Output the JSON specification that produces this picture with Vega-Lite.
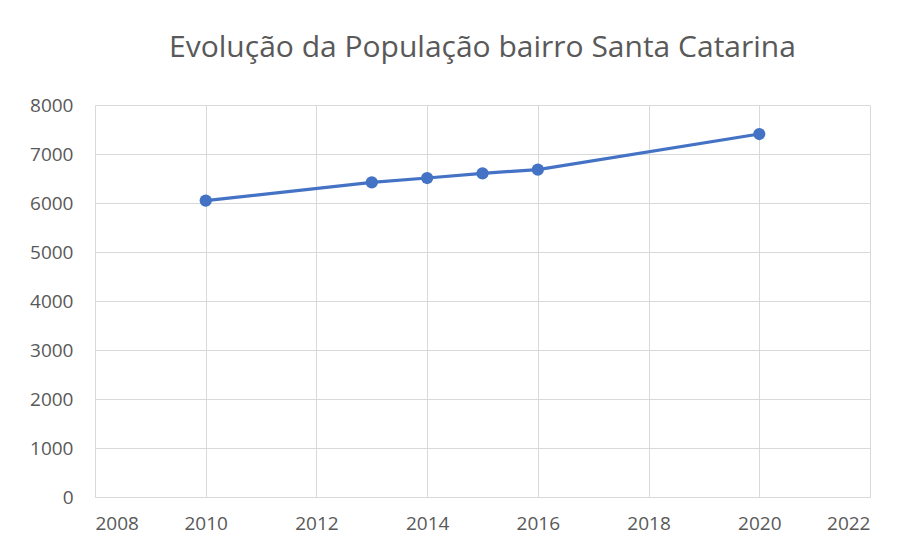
{
  "$schema": "https://vega.github.io/schema/vega-lite/v6.json",
  "autosize": "none",
  "width": 775,
  "height": 392,
  "padding": {"left": 95, "top": 105, "right": 37, "bottom": 52},
  "background": "white",
  "config": {
    "font": "Open Sans",
    "view": {"stroke": null}
  },
  "title": {
    "text": "Evolução da População bairro Santa Catarina",
    "fontSize": 30,
    "font": "Open Sans",
    "fontWeight": "normal",
    "color": "#595959",
    "anchor": "middle",
    "offset": 33
  },
  "data": {
    "values": [
      {"ano": 2010, "populacao": 6049},
      {"ano": 2013, "populacao": 6422},
      {"ano": 2014, "populacao": 6510},
      {"ano": 2015, "populacao": 6606},
      {"ano": 2016, "populacao": 6682},
      {"ano": 2020, "populacao": 7408}
    ]
  },
  "mark": {"type": "line", "color": "#4472C4", "strokeWidth": 3.2, "point": {"filled": true, "size": 150, "color": "#4472C4", "opacity": 1}},
  "encoding": {
    "x": {
      "field": "ano", "type": "quantitative",
      "scale": {"domain": [2008, 2022], "nice": false, "zero": false},
      "axis": {
        "title": null,
        "values": [2008, 2010, 2012, 2014, 2016, 2018, 2020, 2022],
        "format": "d",
        "grid": true, "gridColor": "#d9d9d9", "gridWidth": 1,
        "domain": true, "domainColor": "#d9d9d9",
        "ticks": false,
        "labelFontSize": 19, "labelColor": "#595959", "labelPadding": 17,
        "labelFont": "Open Sans"
      }
    },
    "y": {
      "field": "populacao", "type": "quantitative",
      "scale": {"domain": [0, 8000], "nice": false},
      "axis": {
        "title": null,
        "values": [0, 1000, 2000, 3000, 4000, 5000, 6000, 7000, 8000],
        "format": "d",
        "grid": true, "gridColor": "#d9d9d9", "gridWidth": 1,
        "domain": false,
        "ticks": false,
        "labelFontSize": 19, "labelColor": "#595959", "labelPadding": 22,
        "labelFont": "Open Sans"
      }
    }
  }
}
